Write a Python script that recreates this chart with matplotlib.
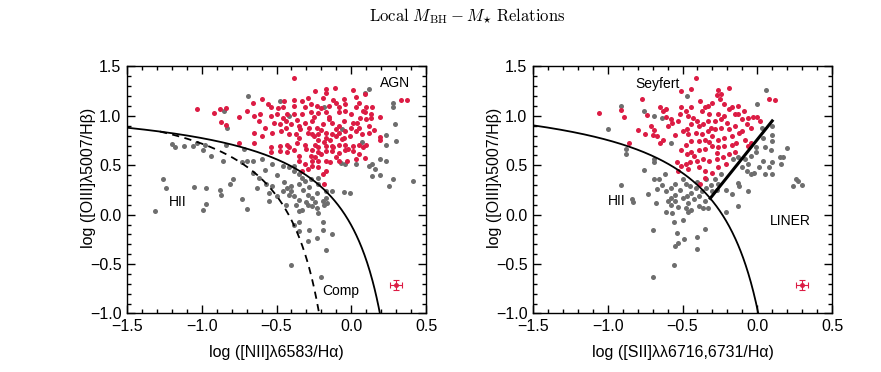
import numpy as np
import matplotlib
matplotlib.use("Agg")
from matplotlib import pyplot as plt
from matplotlib.ticker import MultipleLocator

plt.rcParams['font.family'] = ['Liberation Sans', 'DejaVu Sans']
plt.rcParams['mathtext.fontset'] = 'cm'

# ---- left panel (NII BPT) ----
n2_red = [(-0.38, 1.38), (-0.24, 1.25), (-0.17, 1.27), (-0.11, 1.28), (-0.17, 1.23), (0.01, 1.26),
          (-0.19, 1.18), (-0.29, 1.18), (-0.38, 1.16), (-0.60, 1.17), (-0.12, 1.16), (-0.05, 1.17),
          (0.03, 1.19), (0.09, 1.22), (0.33, 1.16), (0.37, 1.16), (-1.03, 1.07), (-0.88, 1.07),
          (-0.84, 1.08), (-0.92, 1.03), (-0.66, 1.13), (-0.54, 1.09), (-0.49, 1.08), (-0.46, 1.09),
          (-0.38, 1.10), (-0.31, 1.09), (-0.27, 1.12), (-0.23, 1.10), (-0.15, 1.10), (-0.08, 1.09),
          (-0.04, 1.12), (-0.10, 1.13), (0.05, 1.13), (0.10, 1.09), (0.14, 1.09), (0.03, 1.09),
          (0.08, 1.05), (-0.04, 1.05), (-0.08, 1.04), (-0.17, 1.04), (-0.22, 1.03), (-0.27, 1.04),
          (-0.33, 1.02), (-0.38, 1.02), (-0.43, 1.02), (-0.46, 0.98), (-0.50, 1.02), (-0.54, 1.00),
          (-0.61, 1.02), (-0.65, 1.00), (-0.75, 0.99), (0.19, 0.99), (0.09, 1.04), (0.13, 1.02),
          (-0.87, 0.94), (-0.84, 0.91), (-0.65, 0.83), (-0.60, 0.80), (-0.53, 0.83), (-0.48, 0.92),
          (-0.44, 0.95), (-0.40, 0.92), (-0.35, 0.90), (-0.31, 0.93), (-0.26, 0.95), (-0.23, 0.88),
          (-0.19, 0.92), (-0.15, 0.97), (-0.13, 0.93), (-0.08, 0.90), (-0.05, 0.95), (0.01, 0.93),
          (0.04, 0.93), (0.10, 0.97), (0.13, 0.98), (0.05, 0.88), (0.03, 0.85), (-0.04, 0.85),
          (-0.08, 0.83), (-0.13, 0.82), (-0.17, 0.83), (-0.22, 0.82), (-0.26, 0.82), (-0.29, 0.83),
          (-0.34, 0.87), (-0.37, 0.82), (-0.42, 0.82), (-0.47, 0.85), (-0.22, 0.76), (-0.17, 0.78),
          (-0.14, 0.76), (-0.10, 0.80), (-0.06, 0.77), (-0.01, 0.80), (0.07, 0.82), (0.19, 0.79),
          (0.12, 0.83), (-0.75, 0.73), (-0.65, 0.73), (-0.54, 0.63), (-0.54, 0.68), (-0.48, 0.70),
          (-0.43, 0.71), (-0.42, 0.68), (-0.36, 0.73), (-0.31, 0.71), (-0.24, 0.71), (-0.22, 0.68),
          (-0.17, 0.70), (-0.13, 0.70), (-0.08, 0.71), (-0.04, 0.71), (0.01, 0.70), (0.05, 0.71),
          (0.10, 0.71), (-0.26, 0.65), (-0.22, 0.63), (-0.17, 0.64), (-0.13, 0.64), (-0.08, 0.62),
          (-0.04, 0.65), (0.01, 0.64), (0.05, 0.61), (-0.27, 0.59), (-0.24, 0.58), (-0.35, 0.59),
          (-0.38, 0.65), (-0.43, 0.63), (-0.48, 0.64), (0.19, 0.76), (-0.35, 0.54), (-0.31, 0.51),
          (-0.26, 0.54), (-0.22, 0.54), (-0.17, 0.54), (-0.14, 0.53), (-0.08, 0.54), (-0.03, 0.54),
          (0.03, 0.56), (0.09, 0.57), (-0.26, 0.49), (-0.22, 0.48), (-0.17, 0.44), (-0.19, 0.41),
          (-0.29, 0.46), (-0.33, 0.44), (-0.18, 0.31),
          (-0.28, 0.88), (-0.20, 0.86), (-0.10, 0.87), (0.00, 0.88), (-0.05, 0.78), (-0.18, 0.74),
          (-0.25, 0.80), (-0.12, 0.68), (-0.02, 0.66), (0.08, 0.68), (-0.30, 0.66), (-0.20, 0.61),
          (-0.10, 0.58), (0.12, 0.90), (0.15, 0.86), (-0.35, 0.78), (-0.44, 0.88), (-0.52, 0.93),
          (-0.58, 0.88), (-0.62, 0.95), (-0.70, 1.05), (-0.56, 1.12), (-0.45, 1.15), (-0.33, 1.15),
          (-0.20, 1.08), (0.00, 1.02), (0.06, 0.98), (-0.15, 0.99), (-0.25, 0.99), (-0.36, 0.96)]

n2_gray = [(-0.69, 1.20), (-0.48, 1.15), (0.12, 1.27), (0.09, 1.23), (-0.85, 1.05), (0.28, 1.09),
           (0.28, 1.13), (-0.18, 1.09), (-0.42, 1.00), (-0.83, 0.88), (0.23, 0.81), (0.29, 0.92),
           (-0.06, 0.87), (-1.18, 0.68), (-1.12, 0.70), (-1.03, 0.73), (-0.98, 0.71), (-0.99, 0.65),
           (-0.94, 0.59), (-0.84, 0.71), (-0.72, 0.66), (0.07, 0.74), (0.23, 0.71), (0.30, 0.75),
           (-0.86, 0.54), (-0.73, 0.53), (-0.70, 0.54), (-0.66, 0.54), (-0.60, 0.56), (-0.53, 0.51),
           (-0.46, 0.49), (-0.42, 0.48), (-0.38, 0.49), (-0.04, 0.51), (-0.07, 0.52), (0.03, 0.51),
           (0.14, 0.51), (0.19, 0.56), (0.23, 0.54), (0.16, 0.46), (0.12, 0.49), (-0.38, 0.44),
           (-0.35, 0.41), (-0.33, 0.37), (-1.26, 0.36), (-1.24, 0.27), (-1.05, 0.28), (-0.97, 0.27),
           (-0.88, 0.25), (-0.87, 0.20), (-0.81, 0.31), (-0.79, 0.36), (-0.73, 0.16), (-0.63, 0.27),
           (-0.62, 0.37), (-0.57, 0.31), (-0.53, 0.29), (-0.55, 0.22), (-0.50, 0.19), (-0.46, 0.24),
           (-0.43, 0.27), (-0.40, 0.29), (-0.35, 0.31), (-0.31, 0.34), (-0.27, 0.36), (-0.22, 0.37),
           (-0.22, 0.31), (-0.17, 0.24), (-0.13, 0.24), (-0.01, 0.22), (-0.05, 0.23), (0.14, 0.39),
           (0.19, 0.40), (0.28, 0.36), (0.25, 0.29), (0.41, 0.34), (-0.42, 0.20), (-0.38, 0.19),
           (-0.35, 0.15), (-0.29, 0.20), (-0.26, 0.17), (-0.23, 0.22), (-0.17, 0.17), (-0.19, 0.14),
           (-1.31, 0.04), (-0.99, 0.05), (-0.97, 0.11), (-0.70, 0.06), (-0.55, 0.14), (-0.44, 0.10),
           (-0.37, 0.10), (-0.35, 0.04), (-0.33, 0.05), (-0.29, 0.10), (-0.26, 0.09), (-0.23, 0.07),
           (-0.18, 0.10), (-0.16, 0.12), (-0.22, 0.02), (-0.19, -0.07), (-0.35, -0.07), (-0.38, -0.10),
           (-0.35, -0.17), (-0.28, -0.15), (-0.13, -0.20), (-0.19, -0.15), (-0.29, -0.27), (-0.23, -0.24),
           (-0.17, -0.36), (-0.40, -0.51), (-0.20, -0.63),
           (-0.32, 0.25), (-0.28, 0.28), (-0.24, 0.13), (-0.30, 0.13), (-0.40, 0.24), (-0.45, 0.33),
           (-0.50, 0.40), (-0.58, 0.45), (-0.66, 0.42), (-1.20, 0.72), (-1.06, 0.70)]

# ---- right panel (SII BPT) ----
s2_red = [(-0.41, 1.38), (-1.06, 1.03), (-0.91, 1.06), (-0.89, 0.99), (-0.77, 1.17), (-0.74, 1.01),
          (-0.75, 0.82), (-0.80, 0.86), (-0.86, 0.73), (-0.71, 0.90), (-0.70, 0.81), (-0.67, 0.80),
          (-0.65, 1.09), (-0.63, 1.05), (-0.61, 1.07), (-0.61, 0.99), (-0.65, 0.73), (-0.63, 0.76),
          (-0.60, 0.90), (-0.57, 0.93), (-0.55, 0.81), (-0.51, 1.25), (-0.44, 1.27), (-0.51, 1.09),
          (-0.52, 1.02), (-0.48, 1.05), (-0.46, 1.00), (-0.44, 1.09), (-0.43, 0.98), (-0.38, 1.15),
          (-0.37, 1.05), (-0.35, 1.09), (-0.33, 1.10), (-0.32, 1.02), (-0.26, 1.26), (-0.27, 1.21),
          (-0.25, 1.17), (-0.24, 1.22), (-0.19, 1.28), (-0.22, 1.12), (-0.19, 1.07), (-0.17, 1.09),
          (-0.13, 1.10), (-0.15, 1.02), (-0.13, 1.02), (-0.26, 1.02), (-0.22, 1.00), (-0.24, 0.97),
          (-0.28, 0.95), (-0.33, 0.95), (-0.36, 0.92), (-0.39, 0.90), (-0.44, 0.92), (-0.47, 0.87),
          (-0.50, 0.85), (-0.46, 0.82), (-0.41, 0.83), (-0.37, 0.82), (-0.33, 0.85), (-0.28, 0.87),
          (-0.24, 0.88), (-0.19, 0.87), (-0.15, 0.90), (-0.10, 0.97), (-0.06, 0.98), (-0.03, 0.99),
          (0.00, 0.99), (0.02, 0.95), (-0.07, 0.92), (-0.04, 0.88), (-0.12, 0.83), (-0.08, 0.76),
          (-0.04, 0.73), (-0.06, 0.70), (-0.17, 0.80), (-0.22, 0.78), (-0.26, 0.76), (-0.30, 0.80),
          (-0.35, 0.76), (-0.39, 0.75), (-0.44, 0.75), (-0.48, 0.71), (-0.51, 0.65), (-0.47, 0.61),
          (-0.44, 0.63), (-0.39, 0.65), (-0.35, 0.66), (-0.30, 0.70), (-0.26, 0.68), (-0.22, 0.70),
          (-0.17, 0.71), (-0.14, 0.73), (-0.15, 0.63), (-0.19, 0.61), (-0.23, 0.58), (-0.27, 0.56),
          (-0.32, 0.54), (-0.36, 0.56), (-0.40, 0.54), (-0.45, 0.53), (-0.48, 0.51), (-0.51, 0.49),
          (-0.54, 0.53), (-0.53, 0.44), (-0.46, 0.46), (-0.39, 0.48), (-0.35, 0.44), (-0.30, 0.42),
          (-0.26, 0.48), (-0.21, 0.51), (-0.38, 0.31), (-0.35, 0.37), (0.08, 1.17), (0.12, 1.16),
          (-0.30, 1.13), (-0.40, 0.95), (-0.20, 0.93), (-0.31, 0.88), (-0.10, 0.85), (-0.27, 0.62),
          (-0.42, 0.59), (-0.58, 0.97), (-0.69, 0.86), (-0.09, 1.05), (-0.53, 0.95), (-0.32, 0.74)]

s2_gray = [(0.06, 1.26), (-0.47, 1.20), (-0.91, 1.10), (-0.76, 1.05), (-0.69, 1.00), (-1.00, 0.87),
           (-0.64, 0.98), (-0.58, 0.73), (-0.88, 0.61), (-0.88, 0.66), (-0.76, 0.45), (-0.91, 0.30),
           (-0.84, 0.16), (-0.83, 0.13), (-0.69, 0.56), (-0.69, 0.53), (-0.62, 0.41), (-0.69, 0.36),
           (-0.66, 0.36), (-0.73, 0.21), (-0.67, 0.26), (-0.64, 0.30), (-0.61, 0.24), (-0.58, 0.27),
           (-0.55, 0.31), (-0.50, 0.36), (-0.48, 0.31), (-0.45, 0.29), (-0.41, 0.27), (-0.44, 0.22),
           (-0.47, 0.19), (-0.50, 0.17), (-0.55, 0.20), (-0.58, 0.17), (-0.60, 0.14), (-0.58, 0.10),
           (-0.55, 0.14), (-0.68, 0.12), (-0.61, 0.03), (-0.57, 0.02), (-0.56, -0.07), (-0.50, -0.05),
           (-0.48, 0.07), (-0.46, 0.03), (-0.44, 0.05), (-0.39, 0.09), (-0.36, 0.07), (-0.33, 0.07),
           (-0.35, 0.14), (-0.39, 0.19), (-0.37, 0.24), (-0.34, 0.27), (-0.30, 0.24), (-0.26, 0.31),
           (-0.34, 0.36), (-0.28, 0.36), (-0.21, 0.03), (-0.13, 0.09), (-0.13, 0.32), (-0.17, 0.21),
           (-0.24, 0.41), (-0.54, -0.19), (-0.49, -0.25), (-0.53, -0.29), (-0.55, -0.32), (-0.40, -0.23),
           (-0.40, -0.35), (-0.35, -0.14), (-0.70, -0.16), (-0.56, -0.51), (-0.70, -0.63), (-0.16, 0.56),
           (-0.13, 0.58), (-0.08, 0.56), (-0.06, 0.51), (-0.10, 0.48), (-0.07, 0.44), (-0.04, 0.41),
           (-0.02, 0.42), (0.01, 0.48), (0.05, 0.41), (0.10, 0.41), (0.09, 0.65), (0.10, 0.75),
           (0.10, 0.81), (0.04, 0.78), (0.05, 0.68), (-0.01, 0.68), (-0.01, 0.63), (-0.04, 0.59),
           (0.04, 0.54), (0.08, 0.48), (0.10, 0.53), (0.15, 0.58), (0.16, 0.51), (0.17, 0.58),
           (0.20, 0.67), (0.10, 0.90), (0.00, 1.12), (0.03, 0.88), (-0.06, 0.24), (-0.12, 0.29),
           (0.24, 0.29), (0.26, 0.36), (0.27, 0.34), (0.30, 0.30), (-0.27, 0.25), (-0.21, 0.25),
           (-0.52, 0.25), (-0.46, 0.12), (-0.42, 0.16), (-0.53, 0.08), (-0.40, 0.33), (-0.31, 0.30)]

# typical error bar
err_pos = (0.30, -0.71)
err_size = (0.04, 0.05)

# demarcation lines: y = a / (x - b) + c
kewley_n2 = (0.61, 0.47, 1.19)
kauff_n2 = (0.61, 0.05, 1.30)
kewley_s2 = (0.72, 0.32, 1.30)
sey_liner = (1.89, 0.76)

red = '#dc1c44'
gray = '#6e6e6e'


def curve(p, x):
    return p[0] / (x - p[1]) + p[2]


def style(ax, xlabel):
    ax.set_xlim(-1.5, 0.5)
    ax.set_ylim(-1.0, 1.5)
    ax.xaxis.set_major_locator(MultipleLocator(0.5))
    ax.xaxis.set_minor_locator(MultipleLocator(0.1))
    ax.yaxis.set_major_locator(MultipleLocator(0.5))
    ax.yaxis.set_minor_locator(MultipleLocator(0.1))
    ax.tick_params(which='both', direction='in', top=True, right=True, labelsize=11.5, width=1)
    ax.tick_params(which='major', length=6, pad=4)
    ax.tick_params(which='minor', length=3)
    for s in ax.spines.values():
        s.set_linewidth(1.0)
    ax.set_xlabel(xlabel, fontsize=11.5, labelpad=8)
    ax.set_ylabel('log ([OIII]λ5007/Hβ)', fontsize=11.5)
    ax.yaxis.set_label_coords(-0.105, 0.55)


fig = plt.figure(figsize=(8.81, 3.72), dpi=100)
ax1 = fig.add_axes([0.1442, 0.1573, 0.3394, 0.664])
ax2 = fig.add_axes([0.605, 0.1573, 0.3394, 0.664])

g = np.array(n2_gray)
r = np.array(n2_red)
ax1.scatter(g[:, 0], g[:, 1], s=13, c=gray, lw=0, zorder=2)
ax1.scatter(r[:, 0], r[:, 1], s=13, c=red, lw=0, zorder=3)
xk = np.linspace(-1.5, 0.3, 400)
ax1.plot(xk, curve(kewley_n2, xk), color='k', lw=1.3, zorder=4)
xf = np.linspace(-1.28, -0.05, 400)
ax1.plot(xf, curve(kauff_n2, xf), color='k', lw=1.3, ls=(0, (4, 3)), zorder=4)
ax1.errorbar(err_pos[0], err_pos[1], xerr=err_size[0], yerr=err_size[1], fmt='o', ms=2.5,
             color=red, elinewidth=0.8, capsize=2, capthick=0.8)
ax1.text(0.29, 1.33, 'AGN', fontsize=10, ha='center', va='center')
ax1.text(-1.16, 0.13, 'HII', fontsize=10, ha='center', va='center')
ax1.text(-0.07, -0.77, 'Comp', fontsize=10, ha='center', va='center')
style(ax1, 'log ([NII]λ6583/Hα)')

g = np.array(s2_gray)
r = np.array(s2_red)
ax2.scatter(g[:, 0], g[:, 1], s=13, c=gray, lw=0, zorder=2)
ax2.scatter(r[:, 0], r[:, 1], s=13, c=red, lw=0, zorder=3)
xs = np.linspace(-1.5, 0.2, 400)
ax2.plot(xs, curve(kewley_s2, xs), color='k', lw=1.3, zorder=4)
xl = np.linspace(-0.3146, 0.1, 50)
ax2.plot(xl, sey_liner[0] * xl + sey_liner[1], color='k', lw=2.2, zorder=4)
ax2.errorbar(err_pos[0], err_pos[1], xerr=err_size[0], yerr=err_size[1], fmt='o', ms=2.5,
             color=red, elinewidth=0.8, capsize=2, capthick=0.8)
ax2.text(-0.67, 1.32, 'Seyfert', fontsize=10, ha='center', va='center')
ax2.text(-0.94, 0.135, 'HII', fontsize=10, ha='center', va='center')
ax2.text(0.22, -0.06, 'LINER', fontsize=10, ha='center', va='center')
style(ax2, 'log ([SII]λλ6716,6731/Hα)')

fig.text(0.53, 0.955, r'$\mathrm{Local}\ M_{\mathrm{BH}} - M_{\star}\ \mathrm{Relations}$',
         fontsize=12, ha='center', va='center')

fig.savefig('out.png', dpi=100)
